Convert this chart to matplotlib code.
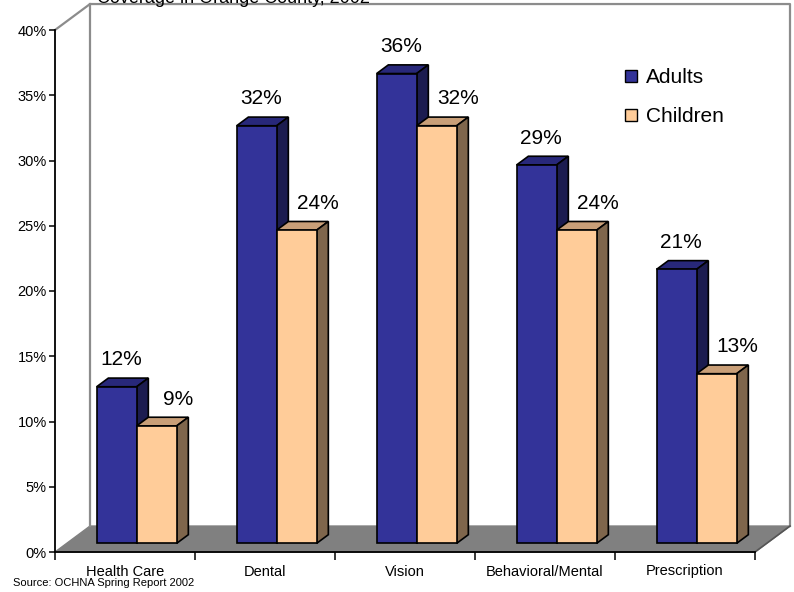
import matplotlib
matplotlib.use('Agg')
import matplotlib.pyplot as plt
from matplotlib.patches import Polygon, Patch

plt.rcParams['font.family'] = ['Liberation Sans', 'DejaVu Sans']

categories = ['Health Care', 'Dental', 'Vision', 'Behavioral/Mental', 'Prescription']
adults = [12, 32, 36, 29, 21]
children = [9, 24, 32, 24, 13]
series_names = ['Adults', 'Children']
yticks = [0, 5, 10, 15, 20, 25, 30, 35, 40]

# colours: front, top, side
blue = ('#333399', '#28287a', '#1c1c50')
orange = ('#ffcc99', '#c99f78', '#7f664c')

W, H = 794, 592
fig = plt.figure(figsize=(W / 100, H / 100), dpi=100)
ax = fig.add_axes([55 / W, 40 / H, 700 / W, 522 / H])
ax.set_xlim(0, 5)
ax.set_ylim(0, 40)

# 3d depth of the whole floor, in data units
DX, DY = 0.25, 1.99
bw = 40 / 140  # bar width in category units
d0 = 1 / 3     # bars start a third of the way back
bd = 1 / 3     # and are a third deep

# back wall + floor
ax.add_patch(Polygon([(0, 0), (5, 0), (5 + DX, DY), (DX, DY)], closed=True,
                     fc='#808080', ec='#808080', lw=1, clip_on=False, zorder=1))
wall = dict(color='#8c8c8c', lw=1.6, clip_on=False, zorder=1)
ax.plot([0, DX, 5 + DX, 5 + DX], [40, 40 + DY, 40 + DY, DY], **wall)
ax.plot([DX, DX], [DY, 40 + DY], **wall)
ax.plot([5, 5 + DX], [0, DY], color='#555555', lw=1.2, clip_on=False, zorder=1)


def draw_bars(xs, vals, cols, dlabel_dx):
    ox, oy = d0 * DX, d0 * DY
    bx, by = bd * DX, bd * DY
    for x0, v in zip(xs, vals):
        x0 = x0 + ox
        x1 = x0 + bw
        top = v + oy
        ax.add_patch(Polygon([(x0, top), (x1, top), (x1 + bx, top + by), (x0 + bx, top + by)],
                             closed=True, fc=cols[1], ec='black', lw=1.2, zorder=3))
        ax.add_patch(Polygon([(x1, oy), (x1 + bx, oy + by), (x1 + bx, top + by), (x1, top)],
                             closed=True, fc=cols[2], ec='black', lw=1.2, zorder=3))
        ax.bar(x0, v, width=bw, bottom=oy, align='edge', color=cols[0],
               edgecolor='black', lw=1.2, zorder=3)
        ax.text(x0 + bw / 2 + dlabel_dx, top + 2.05, f'{v}%', ha='center', va='center',
                fontsize=15, zorder=5)


xa = [i + 0.5 - bw for i in range(len(categories))]
xc = [i + 0.5 for i in range(len(categories))]
draw_bars(xa, adults, blue, 0.03)
draw_bars(xc, children, orange, 0.15)

# axes
for s in ['top', 'right']:
    ax.spines[s].set_visible(False)
ax.spines['left'].set_linewidth(1.3)
ax.spines['bottom'].set_linewidth(1.3)
ax.spines['left'].set_zorder(4)
ax.spines['bottom'].set_zorder(4)
ax.set_yticks(yticks)
ax.set_yticklabels([f'{t}%' for t in yticks])
ax.tick_params(axis='y', direction='out', length=4.5, width=1.1, pad=1.5, labelsize=10.5)
ax.set_xticks(range(len(categories) + 1))
ax.set_xticklabels([])
ax.tick_params(axis='x', which='major', direction='out', length=6, width=1.1)
ax.set_xticks([i + 0.5 for i in range(len(categories))], minor=True)
ax.set_xticklabels(categories, minor=True)
ax.tick_params(axis='x', which='minor', length=0, pad=9, labelsize=10.5)
ax.patch.set_visible(False)

handles = [Patch(fc=blue[0], ec='black', lw=1), Patch(fc=orange[0], ec='black', lw=1)]
ax.legend(handles, series_names, loc='upper left', bbox_to_anchor=(615 / W, 1 - 58 / H),
          bbox_transform=fig.transFigure, frameon=False, fontsize=15, borderpad=0,
          handlelength=0.55, handleheight=0.55, handletextpad=0.45, labelspacing=0.95)

fig.text(97 / W, 1 - 3 / H, 'Coverage in Orange County, 2002', fontsize=13,
         ha='left', va='baseline')
fig.text(13 / W, 1 - 583 / H, 'Source: OCHNA Spring Report 2002', fontsize=8,
         ha='left', va='center')

fig.savefig('out.png', dpi=100)
